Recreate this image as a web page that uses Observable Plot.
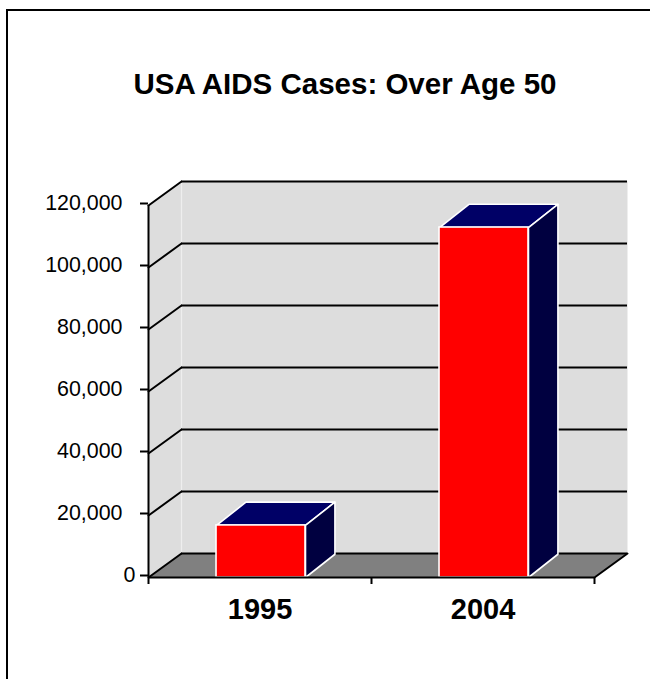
<!DOCTYPE html>
<html><head><meta charset="utf-8">
<script src="https://cdn.jsdelivr.net/npm/d3@7"></script>
<script src="https://cdn.jsdelivr.net/npm/@observablehq/plot@0.6"></script>
<style>
html,body{margin:0;padding:0;background:#fff;}
#wrap{position:relative;width:650px;height:679px;overflow:hidden;}
#frame{position:absolute;left:6px;top:9px;width:700px;height:720px;border:2px solid #000;box-sizing:border-box;}
#title{position:absolute;left:0;width:690px;top:67px;text-align:center;font:bold 29.5px "Liberation Sans",Arial,sans-serif;color:#000;white-space:nowrap;}
svg{position:absolute;left:0;top:0;}
</style></head><body>
<div id="wrap"><div id="frame"></div><div id="title">USA AIDS Cases: Over Age 50</div></div>
<script>
const categories = ["1995", "2004"];
const cases = [16800, 112900];
const yTicks = [0, 20000, 40000, 60000, 80000, 100000, 120000];
const xEdges = [0, 1, 2];
const barStart = 0.305, barEnd = 0.704;
const wallDepthX = 0.148, wallDepthY = 7740;
const barDepthX = 0.132, barDepthY = 7500;

const poly = (pts, key) => [...pts, pts[0]].map(([x, y]) => ({x, y, key}));
const wall = poly([[wallDepthX, wallDepthY], [2 + wallDepthX, wallDepthY], [2 + wallDepthX, 120000 + wallDepthY], [wallDepthX, 120000 + wallDepthY]], "wall");
const side = poly([[0, 0], [wallDepthX, wallDepthY], [wallDepthX, 120000 + wallDepthY], [0, 120000]], "side");
const floor = poly([[0, 0], [2, 0], [2 + wallDepthX, wallDepthY], [wallDepthX, wallDepthY]], "floor");

const barRows = cases.map((v, i) => ({x1: i + barStart, x2: i + barEnd, v}));
const tops = barRows.flatMap((b, i) => poly([[b.x1, b.v], [b.x2, b.v], [b.x2 + barDepthX, b.v + barDepthY], [b.x1 + barDepthX, b.v + barDepthY]], "t" + i));
const sides = barRows.flatMap((b, i) => poly([[b.x2, 0], [b.x2 + barDepthX, barDepthY], [b.x2 + barDepthX, b.v + barDepthY], [b.x2, b.v]], "s" + i));

const gridBack = yTicks.map(v => ({v}));
const slants = yTicks.flatMap(v => [{x: 0, y: v, key: v}, {x: wallDepthX, y: v + wallDepthY, key: v}]);
const floorRight = [{x: 2, y: 0}, {x: 2 + wallDepthX, y: wallDepthY}];

const fill = (data, color) => Plot.line(data, {x: "x", y: "y", z: "key", fill: color, stroke: "none"});
const white = {x: "x", y: "y", z: "key", stroke: "#fff", strokeWidth: 1.6, strokeLinejoin: "round"};
const black = {stroke: "#000", strokeWidth: 2};
const yAxisStyle = {tickSize: 8, tickFormat: d3.format(","), fontSize: 21.4, strokeWidth: 2, stroke: "#000", lineAnchor: "middle", dy: -2};

const chart = Plot.plot({
  width: 650, height: 679,
  marginLeft: 148, marginRight: 56, marginTop: 205, marginBottom: 102,
  style: {background: "transparent", fontFamily: "'Liberation Sans',Arial,sans-serif", overflow: "visible"},
  x: {domain: [0, 2], axis: null},
  y: {domain: [0, 120000], axis: null},
  marks: [
    fill(side, "#dddddd"), fill(wall, "#dddddd"), fill(floor, "#808080"),
    Plot.ruleX([wallDepthX], {y1: wallDepthY, y2: 120000 + wallDepthY, stroke: "#eeeeee", strokeWidth: 1.2}),
    Plot.ruleY(gridBack, {x1: wallDepthX, x2: 2 + wallDepthX, y: d => d.v + wallDepthY, ...black}),
    Plot.line(slants, {x: "x", y: "y", z: "key", ...black}),
    Plot.line(floorRight, {x: "x", y: "y", ...black}),
    Plot.line(tops, {...white, fill: "#000066"}),
    Plot.line(sides, {...white, fill: "#000040"}),
    Plot.rect(barRows, {x1: "x1", x2: "x2", y1: 0, y2: "v", fill: "#ff0000", stroke: "#fff", strokeWidth: 1.6}),
    Plot.ruleX([0], {y1: 0, y2: 120000, ...black}),
    Plot.ruleY([0], {x1: 0, x2: 2, ...black}),
    Plot.axisY({...yAxisStyle, ticks: yTicks.slice(1), tickPadding: 18}),
    Plot.axisY({...yAxisStyle, ticks: yTicks.slice(0, 1), tickPadding: 5}),
    Plot.axisX({ticks: xEdges, tickSize: 7, tickFormat: () => "", strokeWidth: 2, stroke: "#000"}),
    Plot.axisX({ticks: [0.5, 1.5], tickSize: 0, tickPadding: 21, tickFormat: d => categories[Math.floor(d)], fontSize: 29, fontWeight: "bold"})
  ]
});
document.getElementById("wrap").appendChild(chart);
</script></body></html>
